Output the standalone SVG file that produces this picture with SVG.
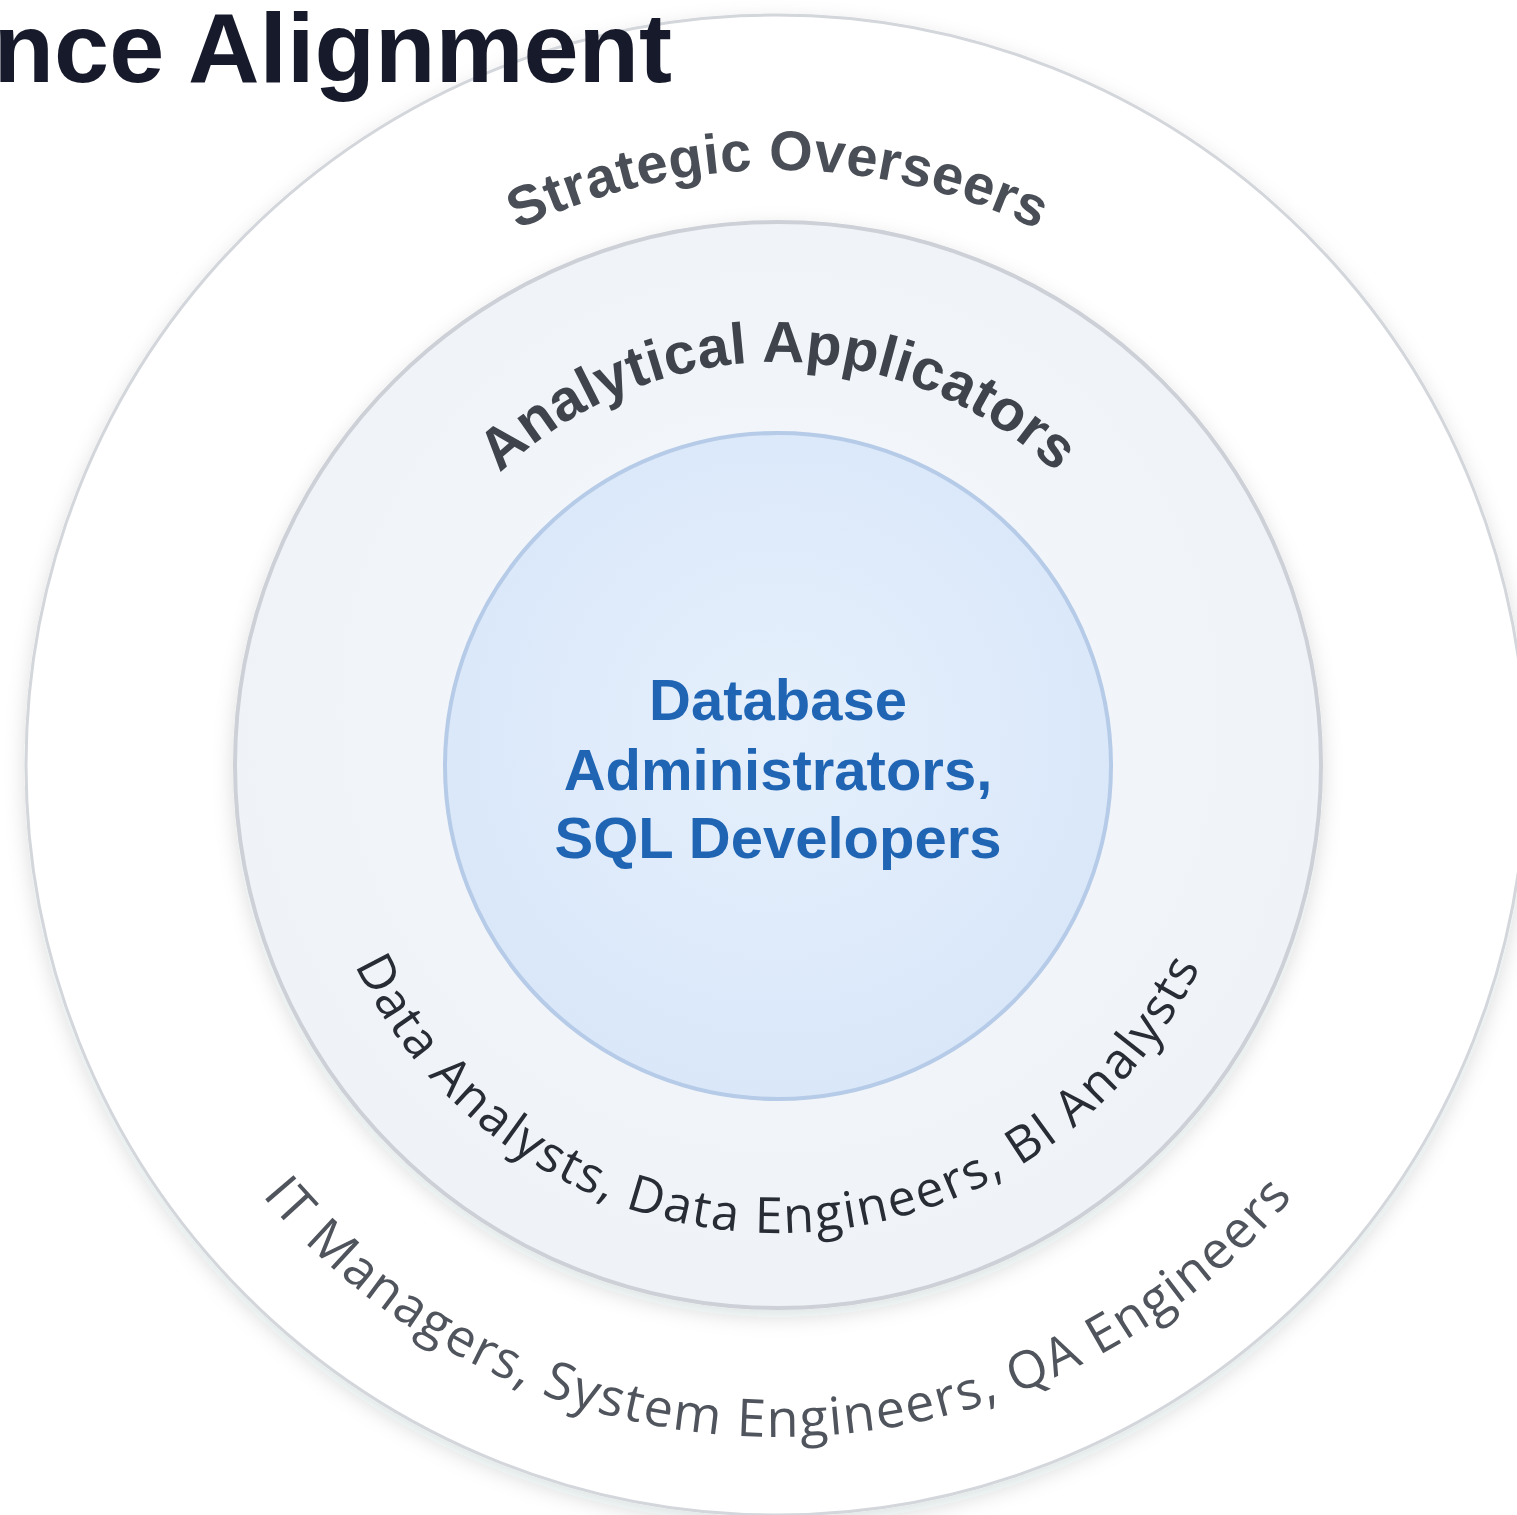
<svg xmlns="http://www.w3.org/2000/svg" width="1517" height="1515" viewBox="0 0 1517 1515">
  <defs>
    <filter id="shadow" x="-20%" y="-20%" width="140%" height="140%">
      <feDropShadow dx="0" dy="7" stdDeviation="10" flood-color="#1f2937" flood-opacity="0.14"/>
    </filter>
    <radialGradient id="coreFill" cx="50%" cy="45%" r="55%">
      <stop offset="0%" stop-color="#e6f0fc"/>
      <stop offset="100%" stop-color="#d9e7f9"/>
    </radialGradient>
    <radialGradient id="midFill" cx="50%" cy="45%" r="55%">
      <stop offset="0%" stop-color="#f4f7fb"/>
      <stop offset="100%" stop-color="#eff3f8"/>
    </radialGradient>
    <path id="arcStrategic" d="M 778 1360 A 595 595 0 1 1 778 170 A 595 595 0 1 1 778 1360"/>
    <path id="arcAnalytical" d="M 778 1168 A 403 403 0 1 1 778 362 A 403 403 0 1 1 778 1168"/>
    <path id="arcData" d="M 778 297 A 468 468 0 1 0 778 1233 A 468 468 0 1 0 778 297"/>
    <path id="arcIT" d="M 778 93 A 672 672 0 1 0 778 1437 A 672 672 0 1 0 778 93"/>
  </defs>
  <style>
    .ring-outer { fill: #ffffff; stroke: #d3d6db; stroke-width: 3; }
    .ring-mid { fill: url(#midFill); stroke: #cdd1d7; stroke-width: 4; }
    .ring-core { fill: url(#coreFill); stroke: #b6cbe7; stroke-width: 4; }
    .arc-bold { font-family: "Liberation Sans", Arial, sans-serif; font-weight: 700; }
    .arc-reg { font-family: "Open Sans", "Noto Sans", sans-serif; font-weight: 400; }
    .core-text { font-family: "Liberation Sans", Arial, sans-serif; font-weight: 700; font-size: 58px; fill: #1f65b4; text-anchor: middle; }
    .title { font-family: "Liberation Sans", Arial, sans-serif; font-weight: 700; font-size: 99px; fill: #171a2b; }
  </style>
  <rect x="0" y="0" width="1517" height="1515" fill="#ffffff"/>

  <g id="ring-outer">
    <circle class="ring-outer" cx="776" cy="765" r="750" filter="url(#shadow)"/>
    <text class="arc-bold" font-size="56" fill="#4a4f57" letter-spacing="0.5">
      <textPath href="#arcStrategic" startOffset="50%" text-anchor="middle">Strategic Overseers</textPath>
    </text>
    <text class="arc-reg" font-size="52" fill="#50555d" letter-spacing="1.7">
      <textPath href="#arcIT" startOffset="50%" text-anchor="middle">IT Managers, System Engineers, QA Engineers</textPath>
    </text>
  </g>

  <g id="ring-middle">
    <circle class="ring-mid" cx="778" cy="765" r="543" filter="url(#shadow)"/>
    <text class="arc-bold" font-size="58" fill="#3f444c" letter-spacing="0.3">
      <textPath href="#arcAnalytical" startOffset="50%" text-anchor="middle">Analytical Applicators</textPath>
    </text>
    <text class="arc-reg" font-size="50" fill="#272c35" letter-spacing="2">
      <textPath href="#arcData" startOffset="50%" text-anchor="middle">Data Analysts, Data Engineers, BI Analysts</textPath>
    </text>
  </g>

  <g id="ring-core">
    <circle class="ring-core" cx="778" cy="766" r="333"/>
    <text class="core-text" x="778" y="720">Database</text>
    <text class="core-text" x="778" y="790">Administrators,</text>
    <text class="core-text" x="778" y="858">SQL Developers</text>
  </g>

  <g id="connectors"/>

  <g id="title">
    <text class="title" x="672" y="82" text-anchor="end">nce Alignment</text>
  </g>
</svg>
